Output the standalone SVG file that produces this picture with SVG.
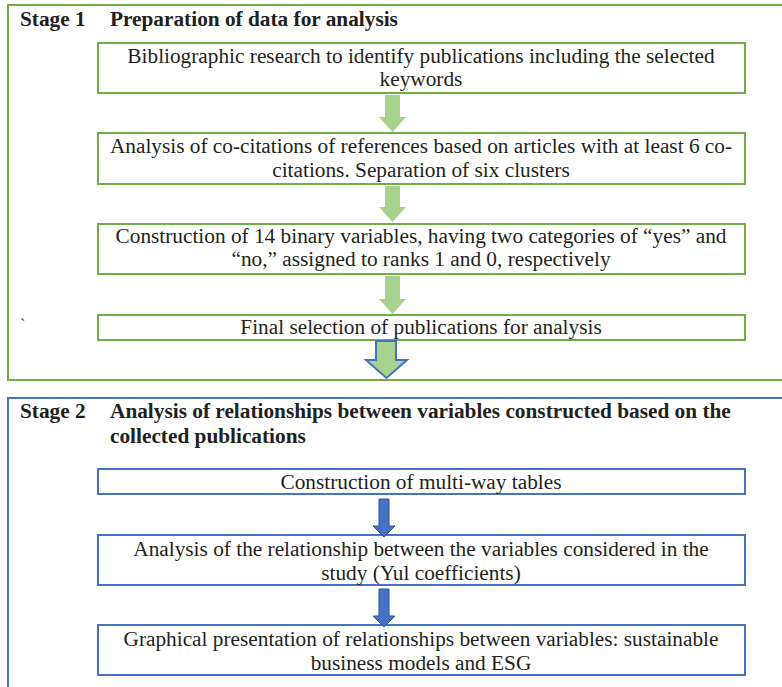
<svg xmlns="http://www.w3.org/2000/svg" width="782" height="687" viewBox="0 0 782 687">
<style>
.t{font-size:21.3px;text-anchor:middle;}
.h{font-size:21.3px;font-weight:bold;}
.g{fill:#fff;stroke:#70ad47;stroke-width:2;}
.b{fill:#fff;stroke:#4472c4;stroke-width:2;}
.ga{fill:#a9d18e;stroke:none;}
.ba{fill:#4472c4;stroke:#2f5597;stroke-width:1;}
.big{fill:#a9d18e;stroke:#4472c4;stroke-width:2;}
</style>
<rect x="0" y="0" width="782" height="687" fill="#fff"/>
<g font-family="Liberation Serif, DejaVu Serif, serif" fill="#231f20">
<g id="stage1">
<rect class="g" x="8" y="5" width="790" height="375"/>
<text class="h" x="20" y="26">Stage 1</text>
<text class="h" x="110" y="26">Preparation of data for analysis</text>
<text x="20" y="330" style="font-size:16px">`</text>
</g>
<g id="stage2">
<rect class="b" x="8" y="398" width="790" height="300"/>
<text class="h" x="20" y="418">Stage 2</text>
<text class="h" x="110" y="418">Analysis of relationships between variables constructed based on the</text>
<text class="h" x="110" y="443">collected publications</text>
</g>
<g id="n1">
<rect class="g" x="98" y="43" width="647" height="50"/>
<text class="t" x="421" y="63">Bibliographic research to identify publications including the selected</text>
<text class="t" x="421" y="86">keywords</text>
</g>
<g id="n2">
<rect class="g" x="98" y="133" width="647" height="51"/>
<text class="t" x="421" y="153">Analysis of co-citations of references based on articles with at least 6 co-</text>
<text class="t" x="421" y="177">citations. Separation of six clusters</text>
</g>
<g id="n3">
<rect class="g" x="98" y="224" width="647" height="50"/>
<text class="t" x="421" y="243">Construction of 14 binary variables, having two categories of “yes” and</text>
<text class="t" x="421" y="266">“no,” assigned to ranks 1 and 0, respectively</text>
</g>
<g id="n4">
<rect class="g" x="98" y="315" width="647" height="25"/>
<text class="t" x="421" y="334">Final selection of publications for analysis</text>
</g>
<g id="n5">
<rect class="b" x="98" y="469" width="647" height="25"/>
<text class="t" x="421" y="489">Construction of multi-way tables</text>
</g>
<g id="n6">
<rect class="b" x="98" y="535" width="647" height="50"/>
<text class="t" x="421" y="556">Analysis of the relationship between the variables considered in the</text>
<text class="t" x="421" y="580">study (Yul coefficients)</text>
</g>
<g id="n7">
<rect class="b" x="98" y="625" width="647" height="50"/>
<text class="t" x="421" y="646">Graphical presentation of relationships between variables: sustainable</text>
<text class="t" x="421" y="670">business models and ESG</text>
</g>
</g>
<g id="connectors">
<polygon class="ga" points="385,95 400,95 400,117 406,117 392.5,132 379,117 385,117"/>
<polygon class="ga" points="385,186 400,186 400,207 406,207 392.5,222 379,207 385,207"/>
<polygon class="ga" points="385,276 400,276 400,299 406,299 392.5,314 379,299 385,299"/>
<polygon class="big" points="376,341 396,341 396,360 407,360 386.5,378 366,360 376,360"/>
<polygon class="ba" points="379,499 389,499 389,526 395,526 384,537 373,526 379,526"/>
<polygon class="ba" points="379,589 389,589 389,616 395,616 384,627 373,616 379,616"/>
</g>
</svg>
